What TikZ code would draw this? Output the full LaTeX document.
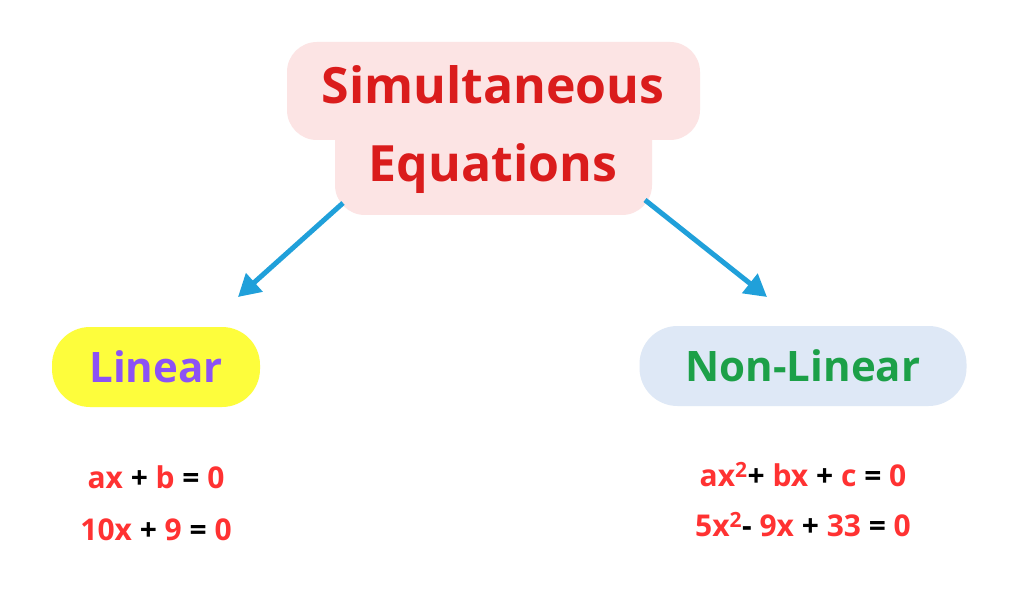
\documentclass[tikz,border=0pt]{standalone}
\usepackage{fontspec}
\setmainfont{Open Sans}
\usetikzlibrary{positioning,arrows.meta}
\definecolor{cpink}{RGB}{252,228,228}
\definecolor{ctitle}{RGB}{218,28,28}
\definecolor{cyel}{RGB}{253,253,60}
\definecolor{cpurple}{RGB}{140,82,245}
\definecolor{cblue}{RGB}{222,232,246}
\definecolor{cgreen}{RGB}{28,160,72}
\definecolor{carrow}{RGB}{32,160,218}
\definecolor{cred}{RGB}{255,50,50}
\newcommand{\rd}[1]{\textcolor{cred}{#1}}
\tikzset{
  kindbox/.style={rounded corners=38pt, minimum height=80pt, font=\fontsize{42}{48}\selectfont\bfseries},
  eqtext/.style={font=\fontsize{30}{34}\selectfont\bfseries, inner sep=0pt},
  branch/.style={-{Triangle[length=22pt,width=24pt]}, line width=5pt, carrow}
}
\begin{document}
\begin{tikzpicture}[x=1pt,y=-1pt]
\useasboundingbox[fill=white] (0,0) rectangle (1024,601);
% title shape
\fill[cpink, rounded corners=30pt] (287,42) rectangle (700,140);
\fill[cpink, rounded corners=30pt] (335,110) rectangle (652,215);
\node[ctitle, font=\fontsize{50}{78}\selectfont\bfseries, align=center] (title) at (493,130)
  {Simultaneous\\Equations};
\coordinate (tl) at (343,203);
\coordinate (tr) at (645,200);
% kinds
\node[kindbox, fill=cyel, text=cpurple, minimum width=208pt] (lin) at (156,367) {Linear};
\node[kindbox, fill=cblue, text=cgreen, minimum width=327pt] (nonlin) at (803,366) {Non-Linear};
\draw[branch] (tl) -- (238,297);
\draw[branch] (tr) -- (767,297);
% equations
\node[eqtext, below=58pt of lin] (lin1) {\rd{ax} + \rd{b} = \rd{0}};
\node[eqtext, below=30pt of lin1] (lin2) {\rd{10x} + \rd{9} = \rd{0}};
\node[eqtext, below=56pt of nonlin] (non1) {\rd{ax\textsuperscript{2}}+ \rd{bx} + \rd{c} = \rd{0}};
\node[eqtext, below=25pt of non1] (non2) {\rd{5x\textsuperscript{2}}- \rd{9x} + \rd{33} = \rd{0}};
\end{tikzpicture}
\end{document}
